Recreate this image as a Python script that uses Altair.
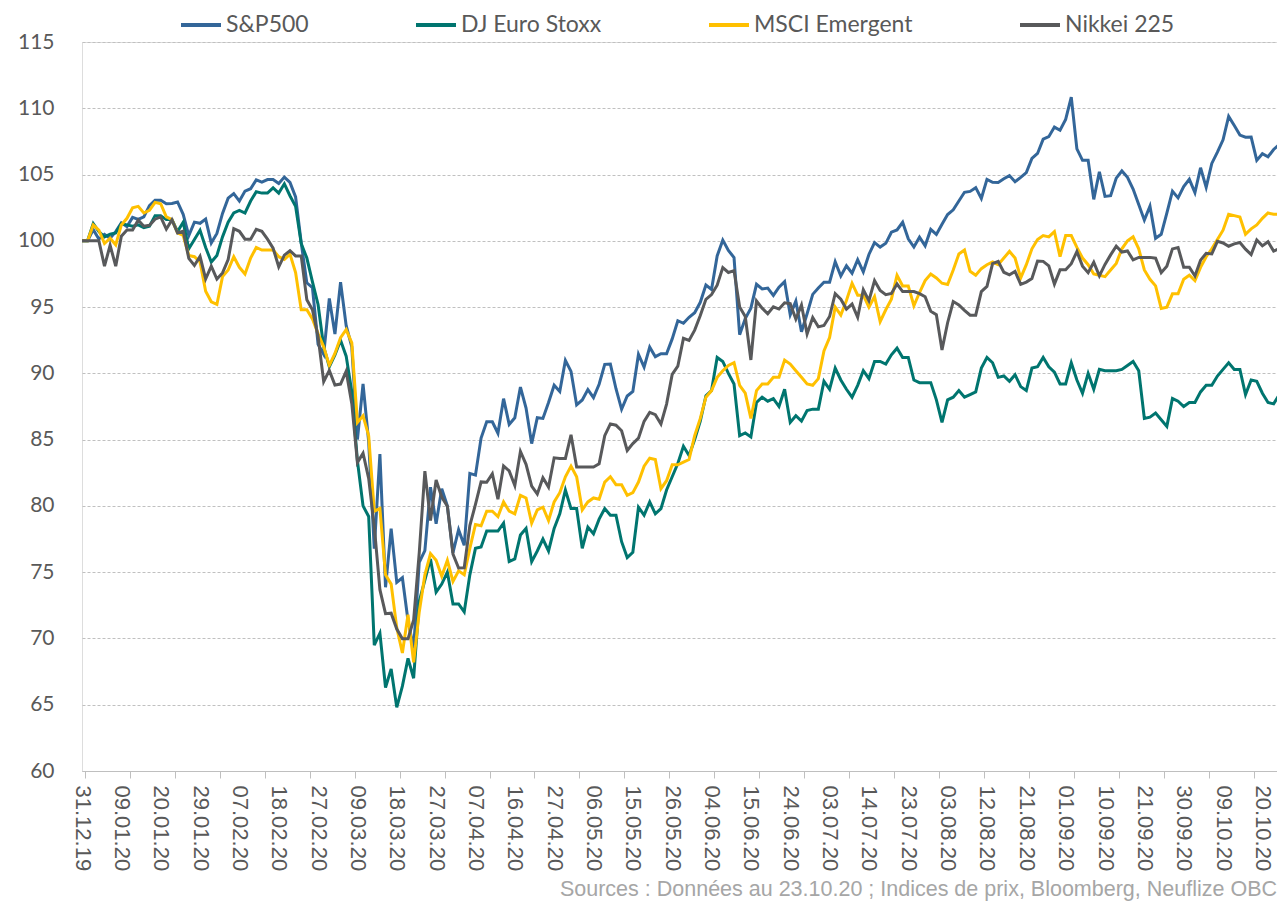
import json
import altair as alt
import pandas as pd

# ---------------- data ----------------
date_labels = [
    "31.12.19", "09.01.20", "20.01.20", "29.01.20", "07.02.20", "18.02.20",
    "27.02.20", "09.03.20", "18.03.20", "27.03.20", "07.04.20", "16.04.20",
    "27.04.20", "06.05.20", "15.05.20", "26.05.20", "04.06.20", "15.06.20",
    "24.06.20", "03.07.20", "14.07.20", "23.07.20", "03.08.20", "12.08.20",
    "21.08.20", "01.09.20", "10.09.20", "21.09.20", "30.09.20", "09.10.20",
    "20.10.20",
]

series_names = ["S&P500", "DJ Euro Stoxx", "MSCI Emergent", "Nikkei 225"]
series_colors = ["#336699", "#00756F", "#FFC000", "#58595B"]

sp500 = [
    100.00, 100.00, 100.84, 100.13, 100.48, 100.20, 100.69, 101.36, 101.07, 101.77,
    101.62, 101.81, 102.66, 103.06, 103.06, 102.79, 102.82, 102.93, 102.00, 100.40,
    101.41, 101.32, 101.64, 99.84, 100.56, 102.07, 103.22, 103.56, 103.00, 103.75,
    103.93, 104.60, 104.43, 104.62, 104.62, 104.32, 104.81, 104.41, 103.31, 99.85,
    96.83, 96.46, 92.20, 91.44, 95.65, 92.96, 96.88, 93.60, 92.00, 85.01,
    89.21, 84.85, 76.78, 83.91, 73.86, 78.28, 74.23, 74.58, 71.34, 69.25,
    75.75, 76.62, 81.41, 78.66, 81.30, 80.00, 76.47, 78.21, 77.03, 82.45,
    82.32, 85.12, 86.35, 86.35, 85.48, 88.09, 86.15, 86.65, 88.97, 87.38,
    84.70, 86.65, 86.60, 87.80, 89.10, 88.63, 90.98, 90.15, 87.62, 87.99,
    88.78, 88.17, 89.18, 90.68, 90.70, 88.84, 87.29, 88.29, 88.64, 91.43,
    90.47, 91.98, 91.26, 91.48, 91.48, 92.60, 93.97, 93.78, 94.23, 94.58,
    95.36, 96.66, 96.33, 98.86, 100.05, 99.27, 98.74, 92.92, 94.13, 94.92,
    96.72, 96.37, 96.43, 95.88, 96.50, 96.92, 94.41, 95.45, 93.14, 94.50,
    95.96, 96.44, 96.88, 96.88, 98.42, 97.35, 98.12, 97.56, 98.58, 97.66,
    98.97, 99.87, 99.53, 99.81, 100.65, 100.82, 101.40, 100.15, 99.53, 100.27,
    99.62, 100.86, 100.48, 101.25, 101.98, 102.34, 103.00, 103.66, 103.73, 104.01,
    103.19, 104.63, 104.42, 104.40, 104.68, 104.92, 104.46, 104.79, 105.15, 106.21,
    106.59, 107.67, 107.86, 108.58, 108.34, 109.16, 110.84, 106.94, 106.07, 106.07,
    103.13, 105.21, 103.35, 103.41, 104.73, 105.27, 104.79, 103.91, 102.74, 101.56,
    102.62, 100.19, 100.49, 102.09, 103.74, 103.24, 104.09, 104.64, 103.64, 105.51,
    104.03, 105.84, 106.69, 107.62, 109.39, 108.70, 107.98, 107.82, 107.83, 106.07,
    106.57, 106.34, 106.89, 107.26,
]

euro_stoxx = [
    100.0, 100.0, 101.3, 100.7, 100.3, 100.5, 100.6, 101.3, 101.2, 101.1,
    101.2, 101.0, 101.1, 101.9, 101.9, 101.6, 101.6, 100.7, 101.4, 99.4,
    100.1, 100.8, 99.5, 98.4, 98.9, 100.3, 101.4, 102.1, 102.3, 102.1,
    103.0, 103.7, 103.6, 103.6, 104.0, 103.6, 104.3, 103.4, 102.6, 99.8,
    98.7, 96.9, 95.2, 92.0, 90.5, 91.4, 92.5, 91.3, 88.6, 83.4,
    80.0, 79.2, 69.5, 70.4, 66.3, 67.7, 64.8, 66.4, 68.5, 67.0,
    72.8, 74.4, 76.0, 73.5, 74.1, 75.0, 72.6, 72.6, 72.0, 74.8,
    76.8, 76.9, 78.1, 78.1, 78.1, 78.7, 75.8, 76.0, 77.8, 78.3,
    75.8, 76.6, 77.5, 76.6, 78.3, 79.4, 81.2, 79.8, 79.8, 76.8,
    78.4, 77.9, 79.0, 79.8, 79.3, 79.3, 77.3, 76.1, 76.5, 79.9,
    79.3, 80.3, 79.4, 79.8, 81.2, 82.2, 83.2, 84.5, 83.8, 85.0,
    86.4, 88.3, 88.7, 91.2, 90.9, 90.0, 89.2, 85.3, 85.5, 85.2,
    87.8, 88.2, 87.9, 88.1, 87.5, 88.8, 86.3, 86.8, 86.4, 87.2,
    87.3, 87.3, 89.4, 88.8, 90.4, 89.5, 88.8, 88.2, 89.1, 90.2,
    89.6, 90.9, 90.9, 90.7, 91.4, 91.9, 91.2, 91.2, 89.5, 89.3,
    89.3, 89.3, 88.0, 86.3, 88.0, 88.2, 88.7, 88.2, 88.4, 88.6,
    90.4, 91.2, 90.8, 89.7, 89.8, 89.4, 89.9, 89.0, 88.7, 90.4,
    90.5, 91.2, 90.5, 90.1, 89.2, 89.2, 90.8, 89.5, 88.5, 90.0,
    88.8, 90.3, 90.2, 90.2, 90.2, 90.3, 90.6, 90.9, 90.2, 86.6,
    86.7, 87.0, 86.5, 86.0, 88.1, 87.9, 87.5, 87.8, 87.8, 88.6,
    89.1, 89.1, 89.8, 90.3, 90.8, 90.3, 90.3, 88.4, 89.5, 89.4,
    88.5, 87.8, 87.7, 88.4,
]

msci_em = [
    100.0, 100.0, 101.2, 100.8, 99.8, 100.2, 99.7, 101.2, 101.7, 102.5,
    102.6, 102.1, 102.3, 102.9, 102.8, 101.8, 101.6, 100.6, 100.4, 98.9,
    98.8, 98.4, 96.2, 95.4, 95.2, 97.3, 97.8, 98.8, 98.0, 97.5,
    98.7, 99.5, 99.3, 99.3, 99.3, 98.8, 98.6, 99.0, 97.6, 94.8,
    94.8, 94.1, 93.0, 92.0, 90.6, 91.5, 92.7, 93.3, 92.3, 86.3,
    86.8, 85.3, 79.6, 79.8, 74.8, 74.1, 70.8, 68.9, 71.8, 68.2,
    72.0, 74.8, 76.4, 75.9, 74.7, 75.9, 74.3, 75.1, 74.8, 76.8,
    78.6, 78.5, 79.6, 79.6, 79.2, 80.3, 79.6, 79.4, 80.8, 80.6,
    78.7, 79.7, 79.9, 78.9, 80.3, 81.0, 82.2, 83.0, 82.2, 79.7,
    80.3, 80.6, 80.5, 81.8, 82.2, 81.6, 81.6, 80.8, 81.0, 81.8,
    83.0, 83.6, 83.5, 81.3, 81.9, 83.1, 83.1, 83.3, 83.5, 85.3,
    86.6, 88.2, 88.7, 89.7, 90.2, 90.6, 90.8, 89.1, 88.5, 86.6,
    88.7, 89.2, 89.2, 89.7, 89.7, 91.0, 90.7, 90.2, 89.7, 89.2,
    89.1, 89.6, 91.7, 92.7, 95.0, 94.4, 95.5, 96.8, 95.9, 95.9,
    95.0, 95.8, 93.9, 94.8, 95.6, 97.4, 96.6, 96.6, 95.1, 96.1,
    97.0, 97.5, 97.2, 96.8, 96.7, 97.8, 99.0, 99.3, 97.7, 97.4,
    97.9, 98.2, 98.4, 98.2, 98.7, 99.2, 98.7, 97.2, 98.2, 99.4,
    100.1, 100.4, 100.3, 100.7, 98.8, 100.4, 100.4, 99.5, 98.7, 98.2,
    97.5, 97.4, 97.3, 97.8, 98.3, 99.4, 100.0, 100.3, 99.4, 97.8,
    97.1, 96.6, 94.9, 95.0, 96.0, 96.0, 97.1, 97.4, 97.0, 98.0,
    98.8, 99.4, 100.1, 100.8, 102.0, 101.9, 101.8, 100.5, 100.9, 101.2,
    101.7, 102.1, 102.0, 102.0,
]

nikkei = [
    100.00, 100.00, 100.00, 100.00, 98.09, 99.66, 98.09, 100.35, 100.82, 100.82,
    101.56, 101.10, 101.17, 101.63, 101.80, 100.88, 101.58, 100.59, 100.72, 98.68,
    98.14, 98.83, 97.13, 98.09, 97.11, 97.58, 98.58, 100.92, 100.72, 100.12,
    100.12, 100.86, 100.72, 100.13, 99.44, 98.04, 98.92, 99.25, 98.86, 98.86,
    95.56, 94.80, 92.78, 89.37, 90.22, 89.12, 89.19, 90.16, 87.71, 83.27,
    83.98, 82.08, 78.45, 73.68, 71.87, 71.91, 70.71, 69.97, 69.97, 71.39,
    76.48, 82.63, 78.90, 81.96, 80.67, 79.97, 76.37, 75.32, 75.33, 78.52,
    80.11, 81.81, 81.78, 82.42, 80.50, 83.02, 82.64, 81.54, 84.11, 83.14,
    81.50, 80.90, 82.13, 81.42, 83.63, 83.58, 83.58, 85.36, 82.93, 82.93,
    82.93, 82.93, 83.17, 85.30, 86.19, 86.09, 85.67, 84.18, 84.70, 85.11,
    86.38, 87.06, 86.88, 86.18, 87.68, 89.92, 90.54, 92.64, 92.48, 93.26,
    94.37, 95.59, 95.94, 96.65, 97.98, 97.61, 97.75, 95.00, 94.29, 91.01,
    95.46, 94.92, 94.50, 95.02, 94.85, 95.32, 95.26, 94.10, 95.16, 92.98,
    94.22, 93.51, 93.61, 94.29, 96.02, 95.60, 94.85, 95.23, 94.23, 96.31,
    95.48, 96.99, 96.25, 95.94, 96.03, 96.74, 96.17, 96.17, 96.17, 96.02,
    95.78, 94.68, 94.43, 91.77, 93.82, 95.42, 95.17, 94.76, 94.39, 94.39,
    96.17, 96.56, 98.28, 98.45, 97.63, 97.44, 97.69, 96.72, 96.89, 97.16,
    98.48, 98.45, 98.11, 96.73, 97.81, 97.81, 98.27, 99.19, 98.09, 97.60,
    98.38, 97.36, 98.22, 98.94, 99.59, 99.15, 99.23, 98.57, 98.75, 98.75,
    98.75, 98.69, 97.60, 98.09, 99.39, 99.50, 98.01, 98.01, 97.35, 98.54,
    99.06, 99.01, 99.96, 99.84, 99.59, 99.77, 99.87, 99.37, 98.96, 100.06,
    99.62, 99.93, 99.23, 99.41,
]

source_text = "Sources : Données au 23.10.20 ; Indices de prix, Bloomberg, Neuflize OBC"

# ---------------- table ----------------
records = []
for order, (name, values) in enumerate(zip(series_names, [sp500, euro_stoxx, msci_em, nikkei])):
    for day, val in enumerate(values):
        records.append({"jour": day, "indice": name, "valeur": val, "ordre": order})
df = pd.DataFrame(records)

HUMANIST = "Lato, sans-serif"
ARIAL = "Liberation Sans, Arial, sans-serif"

label_positions = [7 * k for k in range(len(date_labels))]
tick_positions = [0.5 + 8 * k for k in range(27)]
axis_values = sorted(label_positions + tick_positions)
label_expr = ("datum.value % 7 === 0 ? " + json.dumps(date_labels)
              + "[datum.value / 7] : ''")

x_axis = alt.Axis(
    values=axis_values, labelExpr=label_expr, labelAngle=90,
    labelAlign="left", labelBaseline="middle", labelFont=ARIAL,
    labelFontSize=22, labelColor="#595959", labelPadding=7,
    labelOverlap=False, labelBound=False, labelFlush=False,
    ticks=True, tickSize=7, tickColor="#bfbfbf", tickWidth=1,
    tickOpacity={"condition": {"test": "datum.value % 1 !== 0", "value": 1}, "value": 0},
    domainColor="#bfbfbf", domainWidth=1, grid=False, title=None,
)

y_axis = alt.Axis(
    values=list(range(60, 116, 5)), grid=True, gridColor="#c0c0c0",
    gridDash=[3, 2], gridWidth=1, domain=False, ticks=False,
    labelFont=HUMANIST, labelFontSize=21, labelColor="#595959",
    labelPadding=28, title=None,
)

legend = alt.Legend(
    title=None, orient="none", legendX=107, legendY=-29, direction="horizontal",
    symbolType="M-2,0h4", symbolSize=400, symbolStrokeWidth=4,
    labelFont=HUMANIST, labelFontSize=23, labelColor="#595959", labelLimit=400,
    labelOffset=13, columnPadding=99, padding=0,
)

chart = (
    alt.Chart(df)
    .mark_line(strokeWidth=3, clip=True)
    .encode(
        x=alt.X("jour:Q", scale=alt.Scale(domain=[0, 212.6], nice=False, zero=False), axis=x_axis),
        y=alt.Y("valeur:Q", scale=alt.Scale(domain=[60, 115], nice=False, zero=False), axis=y_axis),
        color=alt.Color("indice:N", scale=alt.Scale(domain=series_names, range=series_colors), legend=legend),
        order=alt.Order("jour:Q"),
        detail="ordre:N",
    )
    .properties(
        width=1195,
        height=729,
        padding={"left": 9, "top": 5, "right": 0, "bottom": 0},
        title=alt.TitleParams(
            text=source_text, orient="bottom", anchor="end", font=ARIAL,
            fontSize=21.5, fontWeight="normal", color="#a6a6a6", offset=8,
        ),
    )
    .configure_view(stroke="transparent", strokeWidth=0)
    .configure(background="white")
)

chart.save("out.html", embed_options={"renderer": "svg", "actions": False})
